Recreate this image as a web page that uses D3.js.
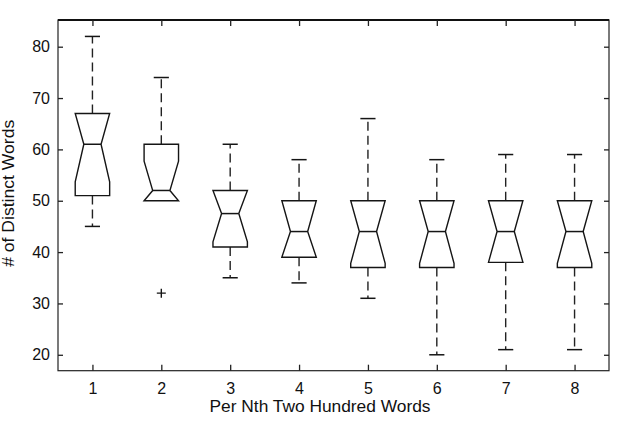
<!DOCTYPE html>
<html>
<head>
<meta charset="utf-8">
<script src="https://cdn.jsdelivr.net/npm/d3@7"></script>
<style>
  html, body { margin: 0; padding: 0; background: #fff; }
  svg { display: block; }
  text { font-family: "Liberation Sans", Arial, Helvetica, sans-serif; fill: #111; }
</style>
</head>
<body>
<svg id="chart" width="617" height="421"></svg>
<script>
// ---- Data ----
const categories    = [1, 2, 3, 4, 5, 6, 7, 8];
const upperWhisker  = [82, 74, 61, 58, 66, 58, 59, 59];
const q3            = [67, 61, 52, 50, 50, 50, 50, 50];
const medians       = [61, 52, 47.5, 44, 44, 44, 44, 44];
const q1            = [51, 50, 41, 39, 37, 37, 38, 37];
const lowerWhisker  = [45, 50, 35, 34, 31, 20, 21, 21];
const notchLo       = [53.7, 50, 42, 39, 37.8, 37.8, 38, 37.8];
const notchHi       = [67, 57.7, 52, 50, 50, 50, 50, 50];
const outlierCat    = [2];
const outlierVal    = [32];
const yTicks        = [20, 30, 40, 50, 60, 70, 80];
const xLabel = "Per Nth Two Hundred Words";
const yLabel = "# of Distinct Words";

// ---- Layout ----
const L = 58, R = 609, T = 20, B = 370.7;
const svg = d3.select("#chart");
const x = d3.scaleLinear().domain([0.5, 8.5]).range([L, R]);
const y = d3.scaleLinear().domain([16.9, 85.2]).range([B, T]);

const boxHalf = 0.25, notchHalf = 0.125, capHalf = 0.11;
const ink = "#151515";

// frame
svg.append("rect").attr("x", L).attr("y", T).attr("width", R - L).attr("height", B - T)
  .attr("fill", "none").attr("stroke", "#222").attr("stroke-width", 1.2);
svg.append("line").attr("x1", L).attr("x2", R).attr("y1", T).attr("y2", T)
  .attr("stroke", "#111").attr("stroke-width", 1.8);

// axes with inward ticks
const gx = svg.append("g").attr("transform", `translate(0,${B})`)
  .call(d3.axisBottom(x).tickValues(categories).tickFormat(d3.format("d")).tickSizeInner(-6).tickSizeOuter(0).tickPadding(12));
const gxTop = svg.append("g").attr("transform", `translate(0,${T})`)
  .call(d3.axisTop(x).tickValues(categories).tickFormat("").tickSizeInner(-6).tickSizeOuter(0));
const gy = svg.append("g").attr("transform", `translate(${L},0)`)
  .call(d3.axisLeft(y).tickValues(yTicks).tickFormat(d3.format("d")).tickSizeInner(-5).tickSizeOuter(0).tickPadding(8));
const gyR = svg.append("g").attr("transform", `translate(${R},0)`)
  .call(d3.axisRight(y).tickValues(yTicks).tickFormat("").tickSizeInner(-5).tickSizeOuter(0));
[gx, gxTop, gy, gyR].forEach(g => {
  g.attr("font-size", 16).attr("font-family", "Liberation Sans, Arial, sans-serif");
  g.select(".domain").remove();
  g.selectAll(".tick line").attr("stroke", "#222").attr("stroke-width", 1.3);
  g.selectAll("text").attr("font-size", 16).style("font-size", "16px").attr("fill", "#111");
});

// boxes
const data = categories.map((c, i) => ({
  c, uw: upperWhisker[i], q3: q3[i], med: medians[i], q1: q1[i], lw: lowerWhisker[i],
  nlo: notchLo[i], nhi: notchHi[i]
}));

const g = svg.append("g");
data.forEach(d => {
  // whiskers (dashed)
  if (d.uw > d.q3) {
    g.append("line").attr("x1", x(d.c)).attr("x2", x(d.c)).attr("y1", y(d.q3)).attr("y2", y(d.uw))
      .attr("stroke", "#222").attr("stroke-width", 1.4).attr("stroke-dasharray", "9,5");
    g.append("line").attr("x1", x(d.c - capHalf)).attr("x2", x(d.c + capHalf)).attr("y1", y(d.uw)).attr("y2", y(d.uw))
      .attr("stroke", ink).attr("stroke-width", 1.5);
  }
  if (d.lw < d.q1) {
    g.append("line").attr("x1", x(d.c)).attr("x2", x(d.c)).attr("y1", y(d.q1)).attr("y2", y(d.lw))
      .attr("stroke", "#222").attr("stroke-width", 1.4).attr("stroke-dasharray", "9,5");
    g.append("line").attr("x1", x(d.c - capHalf)).attr("x2", x(d.c + capHalf)).attr("y1", y(d.lw)).attr("y2", y(d.lw))
      .attr("stroke", ink).attr("stroke-width", 1.5);
  }
  // notched box outline
  const pts = [
    [d.c - boxHalf, d.q1], [d.c - boxHalf, d.nlo], [d.c - notchHalf, d.med], [d.c - boxHalf, d.nhi],
    [d.c - boxHalf, d.q3], [d.c + boxHalf, d.q3], [d.c + boxHalf, d.nhi], [d.c + notchHalf, d.med],
    [d.c + boxHalf, d.nlo], [d.c + boxHalf, d.q1]
  ];
  g.append("path").attr("d", d3.line().x(p => x(p[0])).y(p => y(p[1]))(pts) + "Z")
    .attr("fill", "none").attr("stroke", ink).attr("stroke-width", 1.4);
  // median
  g.append("line").attr("x1", x(d.c - notchHalf)).attr("x2", x(d.c + notchHalf)).attr("y1", y(d.med)).attr("y2", y(d.med))
    .attr("stroke", ink).attr("stroke-width", 1.5);
});

// outliers (+)
outlierCat.forEach((c, i) => {
  const px = x(c), py = y(outlierVal[i]);
  g.append("path").attr("d", `M${px - 4.5},${py}H${px + 4.5}M${px},${py - 4.5}V${py + 4.5}`)
    .attr("stroke", ink).attr("stroke-width", 1.4);
});

// axis labels
svg.append("text").attr("x", 320).attr("y", 412).attr("text-anchor", "middle")
  .attr("font-size", 16).attr("textLength", 221).attr("lengthAdjust", "spacingAndGlyphs").text(xLabel);
svg.append("text").attr("transform", "translate(14,193.3) rotate(-90)").attr("text-anchor", "middle")
  .attr("font-size", 16).attr("textLength", 147).attr("lengthAdjust", "spacingAndGlyphs").text(yLabel);
</script>
</body>
</html>
